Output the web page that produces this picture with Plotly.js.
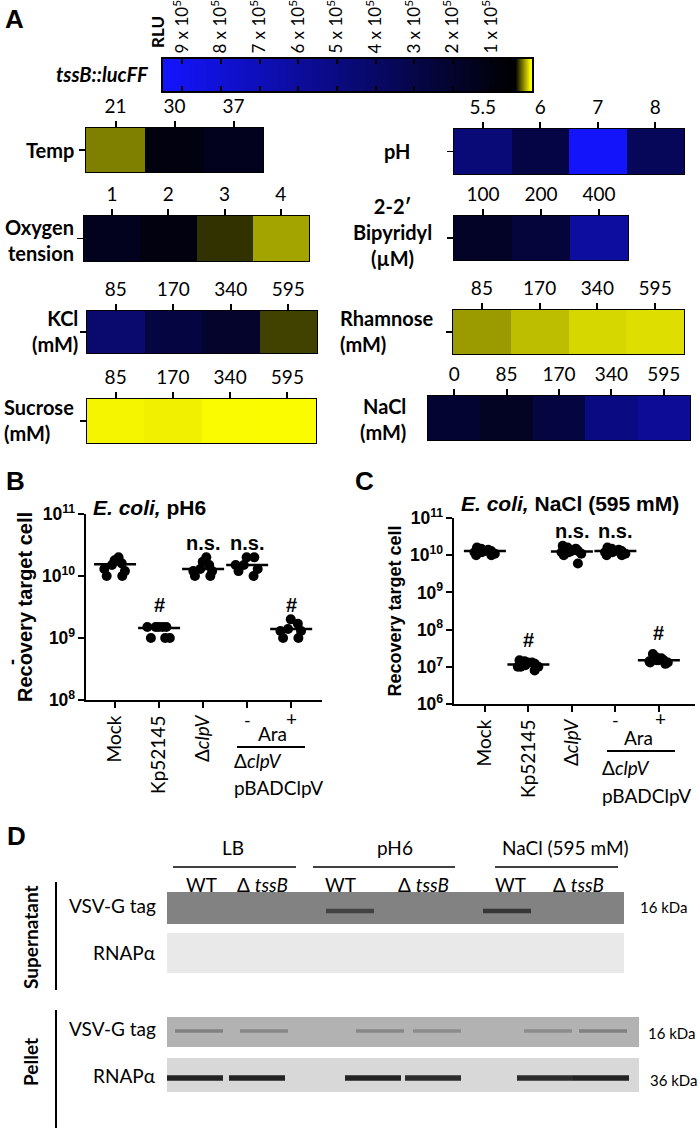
<!DOCTYPE html>
<html><head><meta charset="utf-8">
<script src="https://cdn.plot.ly/plotly-3.0.1.min.js"></script>
<style>html,body{margin:0;padding:0;background:#fff}</style>
</head><body><div id="chart" style="width:698px;height:1129px"></div>
<script>
// ---------------- DATA ----------------
// Panel A: RLU colour scale ticks
const rluTickVals = [900000, 800000, 700000, 600000, 500000, 400000, 300000, 200000, 100000];
const rluTickText = ['9 x 10<sup>5</sup>','8 x 10<sup>5</sup>','7 x 10<sup>5</sup>','6 x 10<sup>5</sup>','5 x 10<sup>5</sup>','4 x 10<sup>5</sup>','3 x 10<sup>5</sup>','2 x 10<sup>5</sup>','1 x 10<sup>5</sup>'];
const rluGradient = [950000, 900000, 800000, 700000, 600000, 500000, 400000, 300000, 200000, 100000, 0];
// Panel A: conditions (RLU estimated from colour)
const tempCats = ['21','30','37'];            const tempRLU = [19000, 92000, 145000];
const oxyCats = ['1','2','3','4'];            const oxyRLU = [145000, 92000, 30500, 13500];
const phCats = ['5.5','6','7','8'];           const phRLU = [467000, 288000, 932000, 360000];
const bipyCats = ['100','200','400'];         const bipyRLU = [181000, 253000, 610000];
const kclCats = ['85','170','340','595'];     const kclRLU = [431000, 270000, 199000, 28300];
const sucCats = ['85','170','340','595'];     const sucRLU = [1500, 2200, 750, 450];
const rhaCats = ['85','170','340','595'];     const rhaRLU = [14900, 9700, 6000, 4900];
const naclCats = ['0','85','170','340','595'];const naclRLU = [217000, 163000, 270000, 503000, 574000];

// Panels B / C
const groups = ['Mock','Kp52145','dclpV','AraMinus','AraPlus'];
const groupText = ['Mock','Kp52145','Δ<i>clpV</i>','',''];
const bMock  = [2.0e10,1.8e10,1.5e10,1.3e10,1.0e10,1.0e10,1.2e10,1.6e10];
const bKp    = [1.5e9,1.5e9,1.5e9,1.5e9,1.5e9,1.0e9,1.0e9,1.0e9];
const bClpV  = [2.0e10,1.7e10,1.3e10,1.0e10,1.0e10,1.2e10,1.5e10,1.2e10];
const bAraM  = [2.0e10,2.0e10,1.5e10,1.3e10,1.0e10,1.2e10,1.5e10];
const bAraP  = [2.0e9,1.7e9,1.4e9,1.3e9,1.0e9,1.0e9,1.3e9];
const bMean  = [1.55e10,1.45e9,1.3e10,1.5e10,1.4e9];
const cMock  = [1.5e10,1.6e10,1.3e10,1.2e10,1.0e10,1.0e10,1.3e10,1.2e10,1.4e10,1.1e10];
const cKp    = [1.5e7,1.3e7,1.2e7,1.0e7,1.0e7,0.8e7,1.1e7,1.3e7,1.0e7,1.4e7];
const cClpV  = [1.8e10,1.5e10,1.3e10,1.2e10,1.0e10,0.6e10,1.2e10,1.6e10,1.3e10,1.1e10];
const cAraM  = [1.5e10,1.6e10,1.3e10,1.2e10,1.0e10,1.0e10,1.3e10,1.4e10,1.2e10,1.1e10];
const cAraP  = [2.2e7,1.8e7,1.5e7,1.5e7,1.3e7,1.2e7,1.4e7,1.7e7,1.3e7,1.5e7];
const cMean  = [1.3e10,1.15e7,1.25e10,1.3e10,1.5e7];

// Panel D: western blot band intensities (0 = none, 1 = darkest)
const blotConditions = ['LB','pH6','NaCl (595 mM)'];
const blotLanes = ['WT','Δ <i>tssB</i>','WT','Δ <i>tssB</i>','WT','Δ <i>tssB</i>'];
const blotRows = ['VSV-G tag','RNAPα','VSV-G tag','RNAPα'];
const blotMarkers = ['16 kDa','','16 kDa','36 kDa'];
const supVSVG = [0, 0, 0.75, 0, 0.9, 0];
const supRNAP = [0, 0, 0, 0, 0, 0];
const pelVSVG = [0.45, 0.4, 0.4, 0.35, 0.35, 0.45];
const pelRNAP = [0.95, 0.95, 0.95, 0.9, 0.9, 0.95];

// ---------------- LAYOUT HELPERS ----------------
const W = 698, H = 1129;
const traces = [];
const layout = {width: W, height: H, margin: {l:0,r:0,t:0,b:0}, showlegend: false, boxgap: 0,
  paper_bgcolor: 'white', plot_bgcolor: 'white', annotations: [], shapes: []};
let axN = 0;
function addAxes(box, xopt, yopt) {
  axN++; const s = axN === 1 ? '' : String(axN);
  layout['xaxis' + s] = Object.assign({domain: [box[0]/W, box[1]/W], anchor: 'y' + s, showgrid: false, zeroline: false, fixedrange: true}, xopt);
  layout['yaxis' + s] = Object.assign({domain: [1 - box[3]/H, 1 - box[2]/H], anchor: 'x' + s, showgrid: false, zeroline: false, fixedrange: true}, yopt);
  return {x: 'x' + s, y: 'y' + s};
}
function ann(text, x, y, o) {
  layout.annotations.push(Object.assign({text: text, x: x/W, y: 1 - y/H, xref: 'paper', yref: 'paper', showarrow: false,
    xanchor: 'center', yanchor: 'middle', font: {family: 'Lato', size: 19, color: '#000'}}, o || {}));
}
function hline(x0, x1, y, w) {
  layout.shapes.push({type: 'line', xref: 'paper', yref: 'paper', x0: x0/W, x1: x1/W, y0: 1 - y/H, y1: 1 - y/H, line: {color: '#000', width: w || 2}});
}
function vline(x, y0, y1, w) {
  layout.shapes.push({type: 'line', xref: 'paper', yref: 'paper', x0: x/W, x1: x/W, y0: 1 - y0/H, y1: 1 - y1/H, line: {color: '#000', width: w || 2}});
}

const ZMAX = 950000;
const CS = [[0, 'rgb(255,255,0)'], [0.04, 'rgb(0,0,0)'], [1, 'rgb(20,20,255)']];
const tickFontA = {family: 'Lato', size: 19, color: '#000'};

// ---------------- PANEL A ----------------
(function () {
  const ax = addAxes([163, 532, 59, 91],
    {range: [ZMAX, -5000], side: 'top', tickmode: 'array', tickvals: rluTickVals, ticktext: rluTickText, tickangle: -90,
     ticks: 'inside', ticklen: 5, tickwidth: 2, tickcolor: '#000', showline: true, mirror: 'ticks', linecolor: '#000', linewidth: 2,
     tickfont: {family: 'Lato', size: 17, color: '#000'}},
    {range: [-0.5, 1.5], showticklabels: false, ticks: '', showline: true, mirror: true, linecolor: '#000', linewidth: 2});
  traces.push({type: 'heatmap', x: rluGradient, y: [0, 1], z: [rluGradient, rluGradient], zsmooth: 'best',
    colorscale: CS, zmin: 0, zmax: ZMAX, showscale: false, xaxis: ax.x, yaxis: ax.y, hoverinfo: 'skip'});
})();

function heatPanel(cats, vals, box, ytick) {
  const ax = addAxes(box,
    {type: 'category', side: 'top', ticks: 'outside', ticklen: 6, tickwidth: 2, tickcolor: '#000', showline: true, mirror: true,
     linecolor: '#000', linewidth: 1, tickfont: tickFontA},
    {range: [-0.5, 0.5], tickvals: [0], showticklabels: false, ticks: ytick === false ? '' : 'outside', ticklen: 6, tickwidth: 1.5, tickcolor: '#000',
     showline: true, mirror: true, linecolor: '#000', linewidth: 1});
  traces.push({type: 'heatmap', x: cats, y: [0], z: [vals], colorscale: CS, zmin: 0, zmax: ZMAX, showscale: false,
    xaxis: ax.x, yaxis: ax.y, hoverinfo: 'skip'});
}
heatPanel(tempCats, tempRLU, [86, 263, 128, 172]);
heatPanel(oxyCats, oxyRLU, [84, 309, 216, 261]);
heatPanel(phCats, phRLU, [454, 684, 129, 174]);
heatPanel(bipyCats, bipyRLU, [454, 628, 216, 260]);
heatPanel(kclCats, kclRLU, [87, 317, 311, 353]);
heatPanel(sucCats, sucRLU, [87, 316, 399, 443]);
heatPanel(rhaCats, rhaRLU, [453, 684, 310, 354]);
heatPanel(naclCats, naclRLU, [428, 690, 396, 440], false);

const bold = {family: 'Lato', size: 20, color: '#000'};
ann('<b>A</b>', 3, 19, {xanchor: 'left', font: {family: 'Liberation Sans', size: 26, color: '#000'}});
ann('<b>RLU</b>', 158, 32, {textangle: -90, font: {family: 'Lato', size: 17, color: '#000'}});
ann('<b><i>tssB::lucFF</i></b>', 150, 74, {xanchor: 'right', font: bold});
ann('<b>Temp</b>', 76, 150, {xanchor: 'right', font: bold});
ann('<b>Oxygen<br>tension</b>', 76, 240, {xanchor: 'right', align: 'right', font: bold});
ann('<b>pH</b>', 412, 151, {xanchor: 'right', font: bold});
ann('<b>2-2′<br>Bipyridyl<br>(µM)</b>', 392, 232, {align: 'center', font: bold});
ann('<b>KCl<br>(mM)</b>', 80, 331, {xanchor: 'right', align: 'right', font: bold});
ann('<b>Sucrose<br>(mM)</b>', 2, 420, {xanchor: 'left', align: 'left', font: bold});
ann('<b>Rhamnose<br>(mM)</b>', 338, 331, {xanchor: 'left', align: 'left', font: bold});
ann('<b>NaCl<br>(mM)</b>', 408, 419, {xanchor: 'right', align: 'right', font: bold});

// ---------------- PANELS B & C ----------------
function dotPanel(box, xr, yr, sets, means, ytitleSize) {
  const ax = addAxes(box,
    {type: 'category', categoryarray: groups, range: xr, tickmode: 'array', tickvals: groups, ticktext: groupText, tickangle: -90,
     ticks: 'outside', ticklen: 6, tickwidth: 2, tickcolor: '#000', showline: true, linecolor: '#000', linewidth: 2,
     tickfont: {family: 'Lato', size: 19, color: '#000'}},
    {type: 'log', range: yr, dtick: 1, exponentformat: 'power', ticks: 'outside', ticklen: 6, tickwidth: 2, tickcolor: '#000',
     showline: true, linecolor: '#000', linewidth: 2, tickfont: {family: 'Liberation Sans', size: 14, color: '#000', weight: 'bold'},
     title: {text: '<b>Recovery target cell</b>', font: {family: 'Liberation Sans', size: ytitleSize, color: '#000'}, standoff: 4}});
  sets.forEach(function (vals, i) {
    traces.push({type: 'box', name: groups[i], x: vals.map(function () { return groups[i]; }), y: vals, boxpoints: 'all', jitter: 0.9, pointpos: 0,
      fillcolor: 'rgba(0,0,0,0)', line: {color: 'rgba(0,0,0,0)', width: 0}, marker: {color: '#000', size: 10},
      xaxis: ax.x, yaxis: ax.y, hoverinfo: 'skip'});
  });
  traces.push({type: 'scatter', mode: 'markers', x: groups, y: means, xaxis: ax.x, yaxis: ax.y, hoverinfo: 'skip',
    marker: {symbol: 'line-ew', size: 30, color: '#000', line: {color: '#000', width: 2.5}}});
  return ax;
}
const axB = dotPanel([86, 322, 514, 700], [-0.66, 4.70], [8, 11], [bMock, bKp, bClpV, bAraM, bAraP], bMean, 20);
const axC = dotPanel([454, 695, 518, 704], [-0.71, 4.83], [6, 11], [cMock, cKp, cClpV, cAraM, cAraP], cMean, 18);

const arialB = {family: 'Liberation Sans', size: 20, color: '#000'};
function axAnn(ax, text, xi, ylog) {
  layout.annotations.push({text: text, x: xi, y: ylog, xref: ax.x, yref: ax.y, showarrow: false, font: arialB, yanchor: 'middle'});
}
axAnn(axB, '<b>n.s.</b>', 2, 10.53); axAnn(axB, '<b>n.s.</b>', 3, 10.53);
axAnn(axB, '<b>#</b>', 1, 9.53); axAnn(axB, '<b>#</b>', 4, 9.53);
axAnn(axC, '<b>n.s.</b>', 2, 10.65); axAnn(axC, '<b>n.s.</b>', 3, 10.65);
axAnn(axC, '<b>#</b>', 1, 7.72); axAnn(axC, '<b>#</b>', 4, 7.91);

ann('<b>B</b>', 4, 481, {xanchor: 'left', font: {family: 'Liberation Sans', size: 26, color: '#000'}});
ann('<b>C</b>', 353, 481, {xanchor: 'left', font: {family: 'Liberation Sans', size: 26, color: '#000'}});
ann('<b><i>E. coli,</i> pH6</b>', 91, 508, {xanchor: 'left', font: {family: 'Liberation Sans', size: 21, color: '#000'}});
ann('<b><i>E. coli,</i> NaCl (595 mM)</b>', 459, 503, {xanchor: 'left', font: {family: 'Liberation Sans', size: 21, color: '#000'}});
ann('<b>-</b>', 12, 662, {font: {family: 'Liberation Sans', size: 18, color: '#000'}, textangle: -90});
// Ara sub-labels
[[247, 291, 272, 747, 237, 305, 232, 760, 787], [615, 660, 638, 751, 607, 675, 600, 767, 795]].forEach(function (p) {
  ann('-', p[0], 720, {font: {family: 'Lato', size: 18, color: '#000'}});
  ann('+', p[1], 718, {font: {family: 'Lato', size: 19, color: '#000'}});
  ann('Ara', p[2], p[3] - 14, {});
  hline(p[4], p[5], p[3], 2);
  ann('Δ<i>clpV</i>', p[6], p[7], {xanchor: 'left'});
  ann('pBADClpV', p[6], p[8], {xanchor: 'left'});
});

// ---------------- PANEL D ----------------
const axD = addAxes([0, 698, 820, 1129], {range: [0, 698], visible: false}, {range: [1129, 820], visible: false});
const strips = [
  {vals: supVSVG, box: [167, 624, 892, 924], bg: 130, dark: 45, by: 911, th: 4.5, hw: 24, lanes: [199, 262, 350, 430, 507, 590]},
  {vals: supRNAP, box: [167, 624, 933, 973], bg: 233, dark: 60, by: 953, th: 4, hw: 24, lanes: [199, 262, 373, 433, 545, 601]},
  {vals: pelVSVG, box: [167, 639, 1017, 1047], bg: 178, dark: 70, by: 1031, th: 3.5, hw: 24, lanes: [199, 264, 380, 437, 548, 603]},
  {vals: pelRNAP, box: [167, 639, 1058, 1092], bg: 216, dark: 25, by: 1078, th: 5.5, hw: 28, lanes: [195, 257, 373, 433, 545, 601]}
];
strips.forEach(function (s) {
  const g = s.bg;
  layout.shapes.push({type: 'rect', xref: axD.x, yref: axD.y, x0: s.box[0], x1: s.box[1], y0: s.box[2], y1: s.box[3],
    fillcolor: 'rgb(' + g + ',' + g + ',' + g + ')', line: {width: 0}, layer: 'below'});
  s.vals.forEach(function (v, i) {
    if (v <= 0) return;
    const c = Math.round(g - v * (g - s.dark));
    traces.push({type: 'scatter', mode: 'lines', x: [s.lanes[i] - s.hw, s.lanes[i] + s.hw], y: [s.by, s.by], xaxis: axD.x, yaxis: axD.y,
      line: {color: 'rgb(' + c + ',' + c + ',' + c + ')', width: s.th}, hoverinfo: 'skip'});
  });
});
ann('<b>D</b>', 5, 836, {xanchor: 'left', font: {family: 'Liberation Sans', size: 26, color: '#000'}});
const condX = [233, 395, 565];
const condLine = [[173, 296], [313, 455], [495, 618]];
blotConditions.forEach(function (t, i) { ann(t, condX[i], 847, {}); hline(condLine[i][0], condLine[i][1], 867, 1.5); });
const laneLabX = [201, 262, 340, 423, 510, 578];
blotLanes.forEach(function (t, i) { ann(t, laneLabX[i], 884, {}); });
const rowY = [905, 952, 1028, 1075];
blotRows.forEach(function (t, i) { ann(t, 158, rowY[i], {xanchor: 'right'}); });
const markerX = [638, 0, 646, 648];
const markerY = [907, 0, 1033, 1080];
blotMarkers.forEach(function (t, i) { if (t) ann(t, markerX[i], markerY[i], {xanchor: 'left', font: {family: 'Lato', size: 15, color: '#000'}}); });
ann('<b>Supernatant</b>', 30, 937, {textangle: -90, font: {family: 'Lato', size: 19, color: '#000'}});
ann('<b>Pellet</b>', 30, 1062, {textangle: -90, font: {family: 'Lato', size: 19, color: '#000'}});
vline(56, 882, 990, 2);
vline(56, 1010, 1128, 2);

Plotly.newPlot('chart', traces, layout, {staticPlot: true, displayModeBar: false});
</script>
</body></html>
